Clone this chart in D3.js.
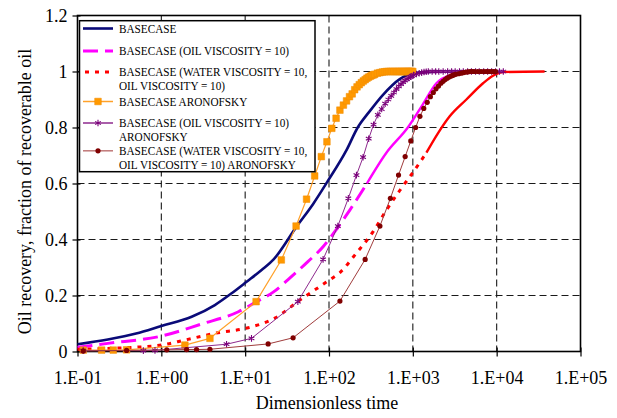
<!DOCTYPE html>
<head>
  <title>Oil recovery vs dimensionless time</title>
</head>
<meta charset="utf-8">

<!-- Load d3.js -->
<script src="https://d3js.org/d3.v7.min.js"></script>

<style>
body { margin: 0; background: white; }
text { font-family: "Liberation Serif", "Times New Roman", serif; fill: #000; }
</style>

<!-- Create a div where the graph will take place -->
<div id="my_dataviz"></div>

<script>

// ---------------------------//
//       DATA                 //
// ---------------------------//

var xTicks = [0.1, 1, 10, 100, 1000, 10000, 100000];
var xTickLabels = ["1.E-01", "1.E+00", "1.E+01", "1.E+02", "1.E+03", "1.E+04", "1.E+05"];
var yTicks = [0, 0.2, 0.4, 0.6, 0.8, 1, 1.2];
var yTickLabels = ["0", "0.2", "0.4", "0.6", "0.8", "1", "1.2"];

var legendLabels = [
  ["BASECASE"],
  ["BASECASE (OIL VISCOSITY = 10)"],
  ["BASECASE (WATER VISCOSITY = 10,", "OIL VISCOSITY = 10)"],
  ["BASECASE ARONOFSKY"],
  ["BASECASE (OIL VISCOSITY = 10)", "ARONOFSKY"],
  ["BASECASE (WATER VISCOSITY = 10,", "OIL VISCOSITY = 10) ARONOFSKY"]
];

// BASECASE
var baseT = [0.1, 0.23, 0.5, 1.0, 2.3, 4.35, 6.9, 10.4, 15.7, 22, 41, 65, 95, 161, 220, 300, 438, 698, 1000, 1500, 2100, 5000, 10000];
var baseY = [0.026, 0.043, 0.064, 0.091, 0.124, 0.166, 0.208, 0.249, 0.291, 0.33, 0.446, 0.528, 0.605, 0.718, 0.8, 0.855, 0.916, 0.973, 0.994, 0.998, 1.0, 1.0, 1.0];

// BASECASE (OIL VISCOSITY = 10)
var oilT = [0.1, 0.23, 1.0, 3.0, 8.3, 13.7, 21.6, 34, 56, 85, 112, 177, 283, 484, 871, 1300, 1910, 3000, 4800, 10000];
var oilY = [0.015, 0.029, 0.055, 0.098, 0.142, 0.178, 0.212, 0.262, 0.321, 0.374, 0.42, 0.505, 0.6, 0.71, 0.8, 0.88, 0.958, 0.99, 1.0, 1.0];

// BASECASE (WATER VISCOSITY = 10, OIL VISCOSITY = 10)
var waterT = [0.1, 0.4, 1.0, 1.91, 4.35, 10.9, 22.6, 45, 93, 135, 213, 336, 484, 698, 1005, 1452, 2000, 2754, 4355, 6880, 9040, 11900, 37300];
var waterY = [0.008, 0.014, 0.023, 0.041, 0.065, 0.085, 0.119, 0.184, 0.248, 0.282, 0.352, 0.428, 0.505, 0.575, 0.64, 0.71, 0.78, 0.84, 0.9, 0.958, 0.985, 0.998, 1.0];

// BASECASE ARONOFSKY
var aronT = [0.117, 0.194, 0.267, 0.385, 1.91, 3.8, 13.5, 27, 40.5, 54, 67.5, 81, 94.5, 108, 121.5, 135,
  148.5, 162, 175.5, 189, 202.5, 216, 229.5, 243, 256.5, 270, 283.5, 297, 310.5, 324, 337.5, 351,
  378, 405, 432, 459, 486, 513, 540, 567, 594, 621, 648, 675, 702, 729, 756, 783, 810, 837, 864,
  891, 918, 945, 972, 999];
var aronY = [0.005, 0.005, 0.005, 0.006, 0.023, 0.047, 0.178, 0.327, 0.448, 0.544, 0.627, 0.696, 0.749, 0.797, 0.833, 0.862,
  0.88, 0.895, 0.91, 0.92, 0.935, 0.945, 0.953, 0.96, 0.966, 0.971, 0.976, 0.98, 0.983, 0.986, 0.988, 0.99,
  0.994, 0.996, 0.998, 0.999, 1, 1, 1, 1, 1, 1, 1, 1, 1, 1, 1, 1, 1, 1, 1,
  1, 1, 1, 1, 1];

// BASECASE (OIL VISCOSITY = 10) ARONOFSKY
var oilAronT = [0.117, 0.61, 0.84, 6.0, 11.9, 42.5, 85, 127.5, 170, 212.5, 255, 297.5, 340, 382.5, 425, 467.5,
  510, 552.5, 595, 637.5, 680, 722.5, 765, 807.5, 850, 892.5, 935, 977.5, 1020, 1105, 1190, 1275, 1360, 1445,
  1530, 1700, 1870, 2040, 2300, 2600, 2900, 3200, 3600, 4000, 4500, 5000, 5600, 6200, 7000, 7800, 8700,
  9700, 10800, 12000];
var oilAronY = [0.003, 0.003, 0.004, 0.026, 0.047, 0.178, 0.329, 0.448, 0.547, 0.63, 0.694, 0.76, 0.81, 0.845, 0.866, 0.885,
  0.9, 0.913, 0.925, 0.937, 0.947, 0.955, 0.962, 0.968, 0.973, 0.977, 0.981, 0.984, 0.987, 0.991, 0.994, 0.996, 0.998, 0.999,
  1, 1, 1, 1, 1, 1, 1, 1, 1, 1, 1, 1, 1, 1, 1, 1, 1,
  1, 1, 1];

// BASECASE (WATER VISCOSITY = 10, OIL VISCOSITY = 10) ARONOFSKY
var waterAronT = [0.117, 0.385, 1.16, 2.0, 2.63, 3.8, 18.8, 37.3, 135, 270, 405, 540, 675, 810, 945, 1080,
  1215, 1350, 1485, 1620, 1755, 1890, 2025, 2160, 2295, 2430, 2565, 2700, 2835, 2970, 3105, 3240,
  3510, 3780, 4050, 4320, 4590, 4860, 5130, 5400, 5940, 6480, 7020, 7560, 8100, 8640, 9180, 9720];
var waterAronY = [0.002, 0.004, 0.006, 0.007, 0.007, 0.008, 0.027, 0.049, 0.18, 0.329, 0.448, 0.547, 0.63, 0.696, 0.752, 0.8,
  0.84, 0.868, 0.89, 0.91, 0.925, 0.938, 0.948, 0.958, 0.965, 0.971, 0.976, 0.98, 0.983, 0.986, 0.988, 0.99,
  0.992, 0.994, 0.996, 0.998, 0.999, 1, 1, 1, 1, 1, 1, 1, 1, 1, 1, 1];


// ---------------------------//
//       SVG AND SCALES       //
// ---------------------------//

var width = 617, height = 418;
var plot = {left: 77.5, right: 580.5, top: 15.5, bottom: 351.5};

var svg = d3.select("#my_dataviz")
  .append("svg")
    .attr("width", width)
    .attr("height", height);

svg.append("rect")
  .attr("width", width)
  .attr("height", height)
  .attr("fill", "white");

var x = d3.scaleLog()
  .domain([0.1, 100000])
  .range([plot.left, plot.right]);

var y = d3.scaleLinear()
  .domain([0, 1.2])
  .range([plot.bottom, plot.top]);

// dashed grid
svg.append("g")
  .selectAll("line")
  .data(xTicks.slice(1, -1))
  .enter()
  .append("line")
    .attr("x1", function(d) { return x(d); })
    .attr("x2", function(d) { return x(d); })
    .attr("y1", plot.top)
    .attr("y2", plot.bottom)
    .attr("stroke", "#1a1a1a")
    .attr("stroke-width", 1.1)
    .attr("stroke-dasharray", "7,4");

svg.append("g")
  .selectAll("line")
  .data(yTicks.slice(1, -1))
  .enter()
  .append("line")
    .attr("x1", plot.left)
    .attr("x2", plot.right)
    .attr("y1", function(d) { return y(d); })
    .attr("y2", function(d) { return y(d); })
    .attr("stroke", "#1a1a1a")
    .attr("stroke-width", 1.1)
    .attr("stroke-dasharray", "7,4");

// frame
svg.append("rect")
  .attr("x", plot.left)
  .attr("y", plot.top)
  .attr("width", plot.right - plot.left)
  .attr("height", plot.bottom - plot.top)
  .attr("fill", "none")
  .attr("stroke", "black")
  .attr("stroke-width", 1.6);

// X axis
var xAxis = svg.append("g")
  .attr("transform", "translate(0," + plot.bottom + ")")
  .call(d3.axisBottom(x)
    .tickValues(xTicks)
    .tickFormat(function(d, i) { return xTickLabels[i]; }));
xAxis.select(".domain").remove();
xAxis.selectAll(".tick line").attr("y1", -4).attr("y2", 5).attr("stroke", "black").attr("stroke-width", 1.2);
xAxis.selectAll(".tick text")
  .attr("y", 32.5)
  .attr("dy", null)
  .style("font-size", "18px")
  .style("font-family", "'Liberation Serif', serif")
  .attr("fill", "#111");

// Y axis
var yAxis = svg.append("g")
  .attr("transform", "translate(" + plot.left + ",0)")
  .call(d3.axisLeft(y)
    .tickValues(yTicks)
    .tickFormat(function(d, i) { return yTickLabels[i]; }));
yAxis.select(".domain").remove();
yAxis.selectAll(".tick line").attr("x1", -5).attr("x2", 3).attr("stroke", "black").attr("stroke-width", 1.2);
yAxis.selectAll(".tick text")
  .attr("x", -10)
  .style("font-size", "18px")
  .style("font-family", "'Liberation Serif', serif")
  .attr("fill", "#111");

// axis titles
svg.append("text")
  .attr("x", 327)
  .attr("y", 409)
  .attr("text-anchor", "middle")
  .style("font-size", "18px")
  .text("Dimensionless time");

svg.append("text")
  .attr("transform", "translate(31,191.5) rotate(-90)")
  .attr("text-anchor", "middle")
  .style("font-size", "18px")
  .text("Oil recovery, fraction of recoverable oil");


// ---------------------------//
//       CURVES               //
// ---------------------------//

var series = [
  {t: baseT, v: baseY, color: "#0a0a78", width: 2.6},
  {t: oilT, v: oilY, color: "#ff00ff", width: 3, dash: "15,7", solidFrom: 290},
  {t: waterT, v: waterY, color: "#ff0000", width: 3, dash: "4,6", solidFrom: 1500},
  {t: aronT, v: aronY, color: "#ffa12a", width: 1.2, marker: "square", mcolor: "#ff9900"},
  {t: oilAronT, v: oilAronY, color: "#8e2a8e", width: 1, marker: "star", mcolor: "#7a007a"},
  {t: waterAronT, v: waterAronY, color: "#a03c3c", width: 1, marker: "dot", mcolor: "#800000"}
];

// smooth curves for the plain lines, straight segments between markers
var smoothLine = d3.line()
  .curve(d3.curveMonotoneX)
  .x(function(d) { return x(d[0]); })
  .y(function(d) { return y(d[1]); });
var line = d3.line()
  .x(function(d) { return x(d[0]); })
  .y(function(d) { return y(d[1]); });

var drawMarkers = function(g, pts, s) {
  if (s.marker == "square") {
    g.selectAll("m").data(pts).enter().append("path")
      .attr("transform", function(d) { return "translate(" + x(d[0]) + "," + y(d[1]) + ")"; })
      .attr("d", d3.symbol(d3.symbolSquare, 44))
      .attr("fill", s.mcolor)
      .attr("stroke", "#f08c00")
      .attr("stroke-width", 0.5);
  } else if (s.marker == "star") {
    g.selectAll("m").data(pts).enter().append("path")
      .attr("transform", function(d) { return "translate(" + x(d[0]) + "," + y(d[1]) + ")"; })
      .attr("d", d3.symbol(d3.symbolAsterisk, 30))
      .attr("fill", "none")
      .attr("stroke", s.mcolor)
      .attr("stroke-width", 1.1);
  } else if (s.marker == "dot") {
    g.selectAll("m").data(pts).enter().append("circle")
      .attr("cx", function(d) { return x(d[0]); })
      .attr("cy", function(d) { return y(d[1]); })
      .attr("r", 2.6)
      .attr("fill", s.mcolor);
  }
};

series.forEach(function(s) {
  var pts = d3.zip(s.t, s.v);
  var g = svg.append("g");
  if (s.dash) {
    // dashes run together where the points get dense
    var dashed = pts.filter(function(p) { return p[0] <= s.solidFrom; });
    var solid = pts.slice(dashed.length - 1);
    g.append("path").datum(dashed)
      .attr("d", smoothLine)
      .attr("fill", "none")
      .attr("stroke", s.color)
      .attr("stroke-width", s.width)
      .attr("stroke-dasharray", s.dash);
    g.append("path").datum(solid)
      .attr("d", smoothLine)
      .attr("fill", "none")
      .attr("stroke", s.color)
      .attr("stroke-width", s.width * 0.8);
  } else {
    g.append("path").datum(pts)
      .attr("d", s.marker ? line : smoothLine)
      .attr("fill", "none")
      .attr("stroke", s.color)
      .attr("stroke-width", s.width)
      .attr("stroke-linejoin", "round");
  }
  drawMarkers(g, pts, s);
});


// ---------------------------//
//       LEGEND               //
// ---------------------------//

var legendSampleY = [28.5, 51, 72, 101.5, 123, 150.8];
var legendLineGap = [14, 14, 14, 14, 13.9, 13.9];

svg.append("rect")
  .attr("x", 79.5)
  .attr("y", 20.7)
  .attr("width", 235.5)
  .attr("height", 151)
  .attr("fill", "white")
  .attr("stroke", "black")
  .attr("stroke-width", 1.5);

series.forEach(function(s, i) {
  var ly = legendSampleY[i];
  var g = svg.append("g");
  g.append("line")
    .attr("x1", s.dash == "4,6" ? 85 : 83)
    .attr("x2", 113)
    .attr("y1", ly)
    .attr("y2", ly)
    .attr("stroke", s.marker == "dot" ? "#c07878" : s.color)
    .attr("stroke-width", s.marker ? 1.5 : s.width)
    .attr("stroke-dasharray", s.dash ? s.dash : null);
  if (s.marker) {
    drawMarkers(g, [[x.invert(98), y.invert(ly)]], s);
  }
  legendLabels[i].forEach(function(txt, j) {
    g.append("text")
      .attr("transform", "translate(119," + (ly + 4.4 + j * legendLineGap[i]) + ") scale(0.9,1)")
      .style("font-size", "12.5px")
      .text(txt);
  });
});

</script>
